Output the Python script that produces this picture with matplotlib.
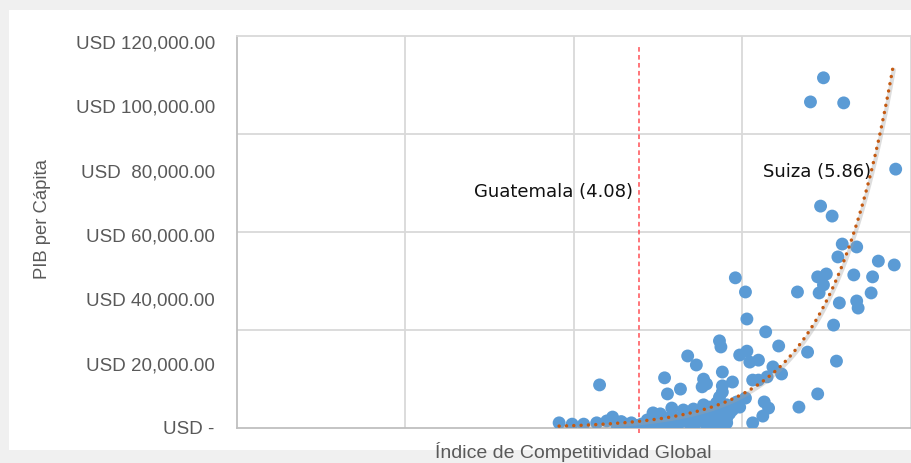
import numpy as np
import matplotlib
matplotlib.use("Agg")
import matplotlib.pyplot as plt
from matplotlib.patches import Rectangle
import matplotlib.transforms as mtransforms

# ---- data ----
gci = [3.53, 3.62, 3.70, 3.79, 3.86, 3.90, 3.93, 3.99, 4.03, 4.10,
       3.81, 4.17, 4.18, 4.23, 4.14, 4.16, 4.21, 4.25, 4.28, 4.31,
       4.39, 4.46, 4.53, 4.57, 4.62, 4.64, 4.66, 4.30, 4.35, 4.42,
       4.49, 4.57, 4.64, 4.69, 4.32, 4.44, 4.55, 4.63, 4.69, 4.69,
       4.87, 4.76, 4.78, 4.82, 4.95, 4.98, 4.94, 4.26, 4.28, 4.37,
       4.42, 4.48, 4.53, 4.52, 4.55, 4.64, 4.65, 4.66, 4.66, 4.73,
       4.78, 4.83, 4.85, 4.91, 4.87, 4.91, 4.97, 5.01, 5.07, 5.05,
       4.96, 4.83, 4.75, 4.82, 5.18, 5.25, 5.43, 5.45, 5.32, 5.19,
       5.36, 5.27, 5.50, 5.86, 5.34, 5.42, 5.49, 5.59, 5.46, 5.74,
       5.85, 5.32, 5.38, 5.57, 5.70, 5.36, 5.33, 5.69, 5.47, 5.59,
       5.60, 4.36, 4.40, 4.47, 4.51, 4.58, 4.60, 4.67, 4.71, 4.73,
       4.59, 4.50, 4.44, 4.24, 4.20, 3.96, 4.07]
gdp = [1600, 1200, 1200, 1600, 2200, 3400, 900, 1200, 1600, 1200,
       13400, 1900, 4700, 4400, 2500, 900, 1900, 900, 1900, 6200,
       5600, 5900, 7200, 6500, 7800, 9600, 11200, 3400, 3100, 3100,
       3400, 4000, 5000, 7200, 300, 900, 900, 300, 1600, 3100,
       1600, 8100, 6500, 9300, 8100, 6200, 3700, 15600, 10600, 12100,
       22400, 19600, 15200, 12800, 13700, 27100, 25200, 17400, 13100, 14300,
       22700, 23900, 20500, 21100, 14900, 14900, 15900, 19000, 16800, 25500,
       29900, 33900, 46700, 42300, 42300, 23600, 32000, 20800, 10600, 6500,
       108900, 101400, 101100, 80500, 69000, 65900, 57200, 56300, 53200, 51900,
       50700, 47000, 47900, 47600, 47000, 44500, 42000, 42000, 38900, 39500,
       37300, 1500, 2200, 1200, 2500, 1800, 2800, 2200, 4500, 5600,
       5200, 4800, 4300, 2800, 600, 2000, 800]

# exponential trendline y = A * exp(B * x), as drawn in the chart
trend_a = 0.198
trend_b = 2.268
trend_range = [3.53, 5.84]

guatemala_gci = 4.08
annotations = ["Guatemala (4.08)", "Suiza (5.86)"]
annot_pos = [(4.04, 73400), (5.69, 79600)]

y_ticks = [0, 20000, 40000, 60000, 80000, 100000, 120000]
y_labels = ["USD -", "USD 20,000.00", "USD 40,000.00", "USD 60,000.00",
            "USD  80,000.00", "USD 100,000.00", "USD 120,000.00"]
x_lim = (1.30, 5.966)
y_lim = (0, 121900)

# ---- figure ----
W, H = 912, 463
fig = plt.figure(figsize=(W / 100, H / 100), dpi=100)
fig.patch.set_facecolor("#f0f0f0")
card = Rectangle((9 / W, (H - 450) / H), 1, (450 - 10) / H,
                 transform=fig.transFigure, facecolor="white",
                 edgecolor="none", zorder=-10)
fig.add_artist(card)

ax = fig.add_axes([237 / W, (H - 428) / H, (911 - 237) / W, (428 - 36) / H])
ax.set_zorder(1)
ax.set_facecolor("white")
ax.set_xlim(*x_lim)
ax.set_ylim(*y_lim)

grid_c = "#d9d9d9"
for xv in np.linspace(x_lim[0], x_lim[1], 5)[1:-1]:
    ax.axvline(xv, color=grid_c, lw=1.3, zorder=1)
for yv in np.linspace(y_lim[0], y_lim[1], 5)[1:-1]:
    ax.axhline(yv, color=grid_c, lw=1.3, zorder=1)

for s in ["top", "right"]:
    ax.spines[s].set_color(grid_c)
    ax.spines[s].set_linewidth(1.3)
for s in ["left", "bottom"]:
    ax.spines[s].set_color("#bfbfbf")
    ax.spines[s].set_linewidth(1.3)

ax.set_xticks([])
ax.set_yticks(y_ticks)
ax.set_yticklabels(y_labels, family="Liberation Sans", fontsize=13.5,
                   color="#595959")
ax.tick_params(axis="y", length=0, pad=16)

# reference line (Guatemala)
ax.plot([guatemala_gci, guatemala_gci], [-1500, 118800], color="#ff4f55",
        lw=1.1, linestyle=(0, (3, 2.2)), zorder=2, clip_on=False)

# scatter
ax.scatter(gci, gdp, s=86, color="#5B9BD5", edgecolors="none", zorder=3)

# trendline with soft shadow
tx = np.linspace(trend_range[0], trend_range[1], 300)
ty = trend_a * np.exp(trend_b * tx)
shadow_tr = mtransforms.offset_copy(ax.transData, fig=fig, x=1.0, y=-1.8,
                                    units="dots")
ax.plot(tx, ty, color="#a0a0a0", lw=3.0, alpha=0.35, transform=shadow_tr,
        zorder=4, solid_capstyle="round")
ax.plot(tx, ty, color="#C55A11", lw=2.5, linestyle=(0, (0.01, 2.1)),
        dash_capstyle="round", zorder=5)

# annotations
for txt, (ax_x, ax_y) in zip(annotations, annot_pos):
    ax.text(ax_x, ax_y, txt, ha="right", va="center", fontsize=13,
            family="DejaVu Sans", color="#111111", zorder=6)

# axis titles
fig.text(43 / W, 1 - 219 / H, "PIB per Cápita", rotation=90, ha="center",
         va="center", fontsize=13.3, family="Liberation Sans", color="#595959",
         zorder=5)
fig.text(573 / W, 1 - 452 / H, "Índice de Competitividad Global", ha="center",
         va="center", fontsize=14, family="Liberation Sans", color="#595959",
         zorder=5)

fig.savefig("out.png", dpi=100, facecolor=fig.get_facecolor())
